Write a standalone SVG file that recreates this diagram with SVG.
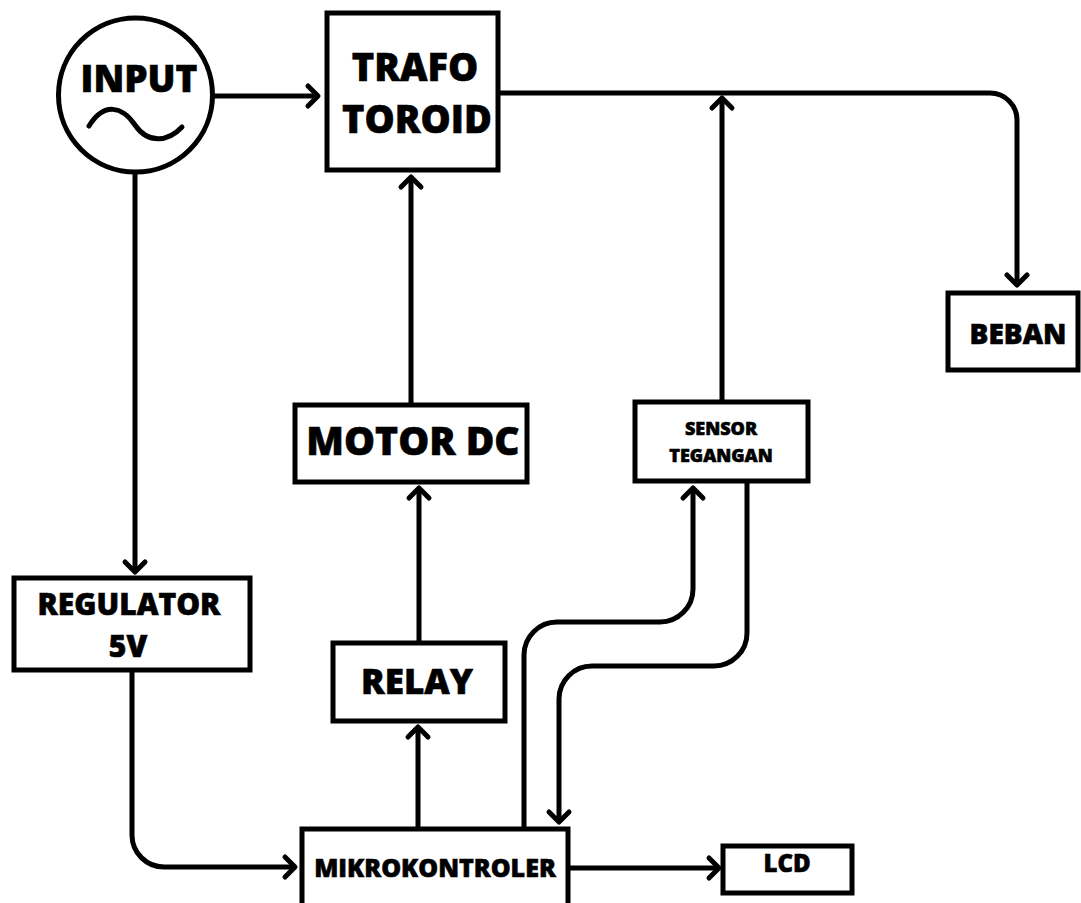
<svg xmlns="http://www.w3.org/2000/svg" width="1081" height="903" viewBox="0 0 1081 903">
<style>
.box{fill:#fff;stroke:#000;stroke-width:5}
.t{font-family:"Open Sans","Noto Sans","Liberation Sans",sans-serif;font-weight:800;fill:#000;stroke:#000;stroke-width:0.6;text-anchor:middle}
.c{fill:none;stroke:#000;stroke-width:5;stroke-linejoin:round}
</style>
<defs>
<marker id="ah" markerUnits="userSpaceOnUse" markerWidth="30" markerHeight="30" viewBox="-15 -15 30 30" refX="0" refY="0" orient="auto">
<path d="M-10,-10 L0,0 L-10,10" fill="none" stroke="#000" stroke-width="5" stroke-linecap="round" stroke-linejoin="round"/>
</marker>
</defs>
<rect width="1081" height="903" fill="#fff"/>
<g id="connectors">
<path class="c" d="M213,96 H318" marker-end="url(#ah)"/>
<path class="c" d="M498,93 H990 A27,27 0 0 1 1017,120 V285" marker-end="url(#ah)"/>
<path class="c" d="M722,402 V98" marker-end="url(#ah)"/>
<path class="c" d="M411,405 V177" marker-end="url(#ah)"/>
<path class="c" d="M419,643 V488" marker-end="url(#ah)"/>
<path class="c" d="M418,829 V727" marker-end="url(#ah)"/>
<path class="c" d="M135,172 V572" marker-end="url(#ah)"/>
<path class="c" d="M132,670 V835 A32,32 0 0 0 164,867 H295" marker-end="url(#ah)"/>
<path class="c" d="M524,829 V655 A33,33 0 0 1 557,622 H660 A33,33 0 0 0 693,589 V488" marker-end="url(#ah)"/>
<path class="c" d="M747,481 V633 A33,33 0 0 1 714,666 H592 A33,33 0 0 0 559,699 V822" marker-end="url(#ah)"/>
<path class="c" d="M568,868 H719" marker-end="url(#ah)"/>
</g>
<g id="input">
<circle cx="135.5" cy="95" r="77" class="box"/>
<text class="t" x="139" y="92" font-size="37">INPUT</text>
<path class="c" d="M89,126 C104,102 122,106 135,125 C148,144 168,142 182,127" stroke-linecap="round"/>
</g>
<g id="trafo">
<rect class="box" x="327" y="13" width="171" height="157"/>
<text class="t" x="415" y="81" font-size="38">TRAFO</text>
<text class="t" x="417" y="133" font-size="38">TOROID</text>
</g>
<g id="beban">
<rect class="box" x="948" y="293" width="130" height="77"/>
<text class="t" x="1018" y="344" font-size="28">BEBAN</text>
</g>
<g id="sensor">
<rect class="box" x="635" y="402" width="173" height="79"/>
<text class="t" x="721" y="435" font-size="18">SENSOR</text>
<text class="t" x="721" y="462" font-size="18">TEGANGAN</text>
</g>
<g id="motor">
<rect class="box" x="295" y="405" width="232" height="77"/>
<text class="t" x="413" y="455" font-size="39">MOTOR DC</text>
</g>
<g id="regulator">
<rect class="box" x="14" y="578" width="236" height="92"/>
<text class="t" x="129" y="615" font-size="30">REGULATOR</text>
<text class="t" x="128" y="657" font-size="30">5V</text>
</g>
<g id="relay">
<rect class="box" x="333" y="643" width="172" height="78"/>
<text class="t" x="417" y="694" font-size="35">RELAY</text>
</g>
<g id="mikrokontroler">
<rect class="box" x="302" y="829" width="266" height="80"/>
<text class="t" x="435" y="877" font-size="25">MIKROKONTROLER</text>
</g>
<g id="lcd">
<rect class="box" x="723" y="846" width="129" height="47"/>
<text class="t" x="787" y="872" font-size="24">LCD</text>
</g>
</svg>
